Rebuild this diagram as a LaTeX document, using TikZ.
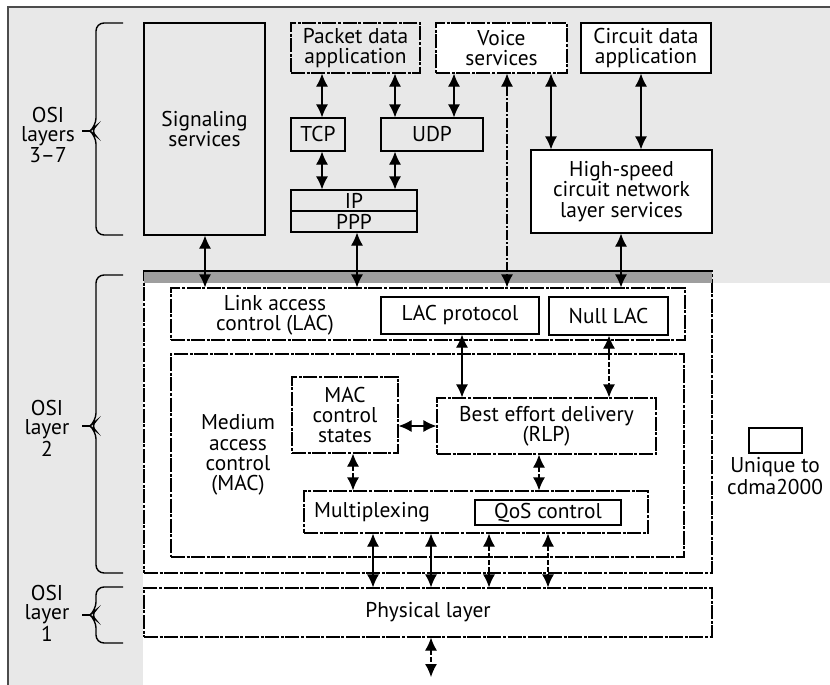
\documentclass[tikz,border=0pt]{standalone}
\usepackage{fontspec}
\setmainfont{PT Sans}
\usetikzlibrary{arrows.meta,calc}
\definecolor{stip}{gray}{0.91}
\definecolor{strip}{gray}{0.62}
\begin{document}
\begin{tikzpicture}[x=0.5pt,y=-0.5pt,
  every node/.style={font=\fontsize{10.7}{10.2}\selectfont, align=center},
  box/.style={draw=black, line width=0.6pt, inner sep=0pt},
  sz/.style 2 args={minimum width=#1, minimum height=#2},
  brk/.style={dash pattern=on 7pt off 0.8pt on 1.5pt off 0.8pt},
  common/.style={box, fill=stip},
  unique/.style={box, fill=white},
  dbl/.style={{Latex[length=6.5pt,width=6pt]}-{Latex[length=6.5pt,width=6pt]}, line width=0.6pt},
  dsh/.style={dash pattern=on 2.5pt off 1pt},
  brace/.style={line width=0.7pt, rounded corners=4pt},
  lbl/.style={inner sep=0pt},
  osi/.style={inner sep=0pt, font=\fontsize{10.7}{9.6}\selectfont}
]
\useasboundingbox (0,0) rectangle (830,685);
% background stipple
\fill[stip] (8,7) rectangle (830,283);
\fill[stip] (8,283) rectangle (143,685);
\draw[line width=1pt, black!70] (8,685) -- (8,7) -- (830,7);

% ---------- OSI layers 3-7 ----------
\node[common, sz={60.5pt}{106pt}] (sig) at (204.5,129) {Signaling\\services};
\node[common, brk, sz={64.5pt}{25pt}] (pda) at (355.5,48) {Packet data\\application};
\node[common, sz={27pt}{16.5pt}] (tcp) at (318,134.5) {TCP};
\node[common, sz={51pt}{16.5pt}] (udp) at (432,134.5) {UDP};
\node[common, sz={63pt}{10.5pt}] (ip) at (354,200.5) {IP};
\node[common, sz={63pt}{10.5pt}] (ppp) at (354,221.5) {PPP};
\node[unique, brk, sz={65.5pt}{25pt}] (voice) at (501.5,48) {Voice\\services};
\node[unique, sz={65pt}{25pt}] (cda) at (646,48) {Circuit data\\application};
\node[unique, sz={90.5pt}{41.5pt}] (hs) at (621.5,191.5) {High-speed\\circuit network\\layer services};

% ---------- OSI layer 2 ----------
\node[unique, brk, sz={284pt}{151pt}] (l2) at (428,422) {};
\fill[strip] (144.3,271.3) rectangle (711.7,283);
\draw[line width=0.6pt] (144,271) -- (712,271);
\node[unique, brk, sz={257pt}{26pt}] (lac) at (428,314) {};
\node[lbl] (laclbl) at (275,315) {Link access\\control (LAC)};
\node[unique, sz={79pt}{18.5pt}] (lacp) at (460,315.5) {LAC protocol};
\node[unique, sz={59.5pt}{19pt}] (nlac) at (608.5,316) {Null LAC};
\node[unique, brk, sz={256.5pt}{101.5pt}] (mac) at (427.5,455.5) {};
\node[lbl] (maclbl) at (238,455) {Medium\\access\\control\\(MAC)};
\node[unique, brk, sz={53pt}{38pt}] (macc) at (345,415) {MAC\\control\\states};
\node[unique, brk, sz={109.5pt}{28pt}] (best) at (546.5,426) {Best effort delivery\\(RLP)};
\node[unique, brk, sz={172pt}{21pt}] (mux) at (476,512) {};
\node[lbl] (muxlbl) at (372,512) {Multiplexing};
\node[unique, sz={73pt}{12.5pt}] (qos) at (548,512.5) {QoS control};

% ---------- OSI layer 1 ----------
\node[unique, brk, sz={284pt}{24.5pt}] (phy) at (428,612.5) {Physical layer};
\coordinate (air) at (431,677);

% ---------- legend ----------
\node[unique, sz={26.5pt}{12.5pt}] (leg) at (775.5,440.5) {};
\node[osi, anchor=north] (leglbl) at (775,457) {Unique to\\cdma2000};

% ---------- braces ----------
\draw[brace] (123,23) -- (96,23) -- (96,126) -- (90,131) -- (96,136) -- (96,235) -- (123,235);
\draw[line width=0.7pt] (90,131) -- (82,131);
\node[osi] (osi37) at (48,135) {OSI\\layers\\3–7};
\draw[brace] (123,275) -- (96,275) -- (96,421) -- (90,426) -- (96,431) -- (96,573) -- (123,573);
\draw[line width=0.7pt] (90,426) -- (82,426);
\node[osi] (osi2) at (47,428) {OSI\\layer\\2};
\draw[brace] (123,587) -- (96,587) -- (96,610) -- (90,615) -- (96,620) -- (96,643) -- (123,643);
\draw[line width=0.7pt] (90,615) -- (82,615);
\node[osi] (osi1) at (47,613) {OSI\\layer\\1};

% ---------- connectors, top ----------
\draw[dbl] (pda.south -| 322,0) -- (tcp.north -| 322,0);
\draw[dbl] (pda.south -| 395,0) -- (udp.north -| 395,0);
\draw[dbl] (voice.south -| 454,0) -- (udp.north -| 454,0);
\draw[dbl] (tcp.south -| 322,0) -- (ip.north -| 322,0);
\draw[dbl] (udp.south -| 395,0) -- (ip.north -| 395,0);
\draw[dbl] (voice.south -| 551,0) -- (hs.north -| 551,0);
\draw[dbl] (cda.south -| 641,0) -- (hs.north -| 641,0);
\draw[dbl, dash pattern=on 5pt off 1pt on 1pt off 1pt] (voice.south -| 507,0) -- (lac.north -| 507,0);
\draw[dbl] (sig.south -| 205,0) -- (lac.north -| 205,0);
\draw[dbl] (ppp.south -| 357,0) -- (lac.north -| 357,0);
\draw[dbl] (hs.south -| 621,0) -- (lac.north -| 621,0);

% ---------- connectors, layer 2 ----------
\draw[dbl] (lacp.south -| 462,0) -- (best.north -| 462,0);
\draw[dbl, dsh] (nlac.south -| 609,0) -- (best.north -| 609,0);
\draw[dbl] (best.west) -- (best.west -| macc.east);
\draw[dbl, dsh] (macc.south -| 353,0) -- (mux.north -| 353,0);
\draw[dbl, dsh] (best.south -| 539,0) -- (mux.north -| 539,0);
\draw[dbl] (mux.south -| 373,0) -- (phy.north -| 373,0);
\draw[dbl] (mux.south -| 431,0) -- (phy.north -| 431,0);
\draw[dbl, dsh] (mux.south -| 489,0) -- (phy.north -| 489,0);
\draw[dbl, dsh] (mux.south -| 548,0) -- (phy.north -| 548,0);
\draw[dbl, dsh] (phy.south -| air) -- (air);
\end{tikzpicture}
\end{document}
